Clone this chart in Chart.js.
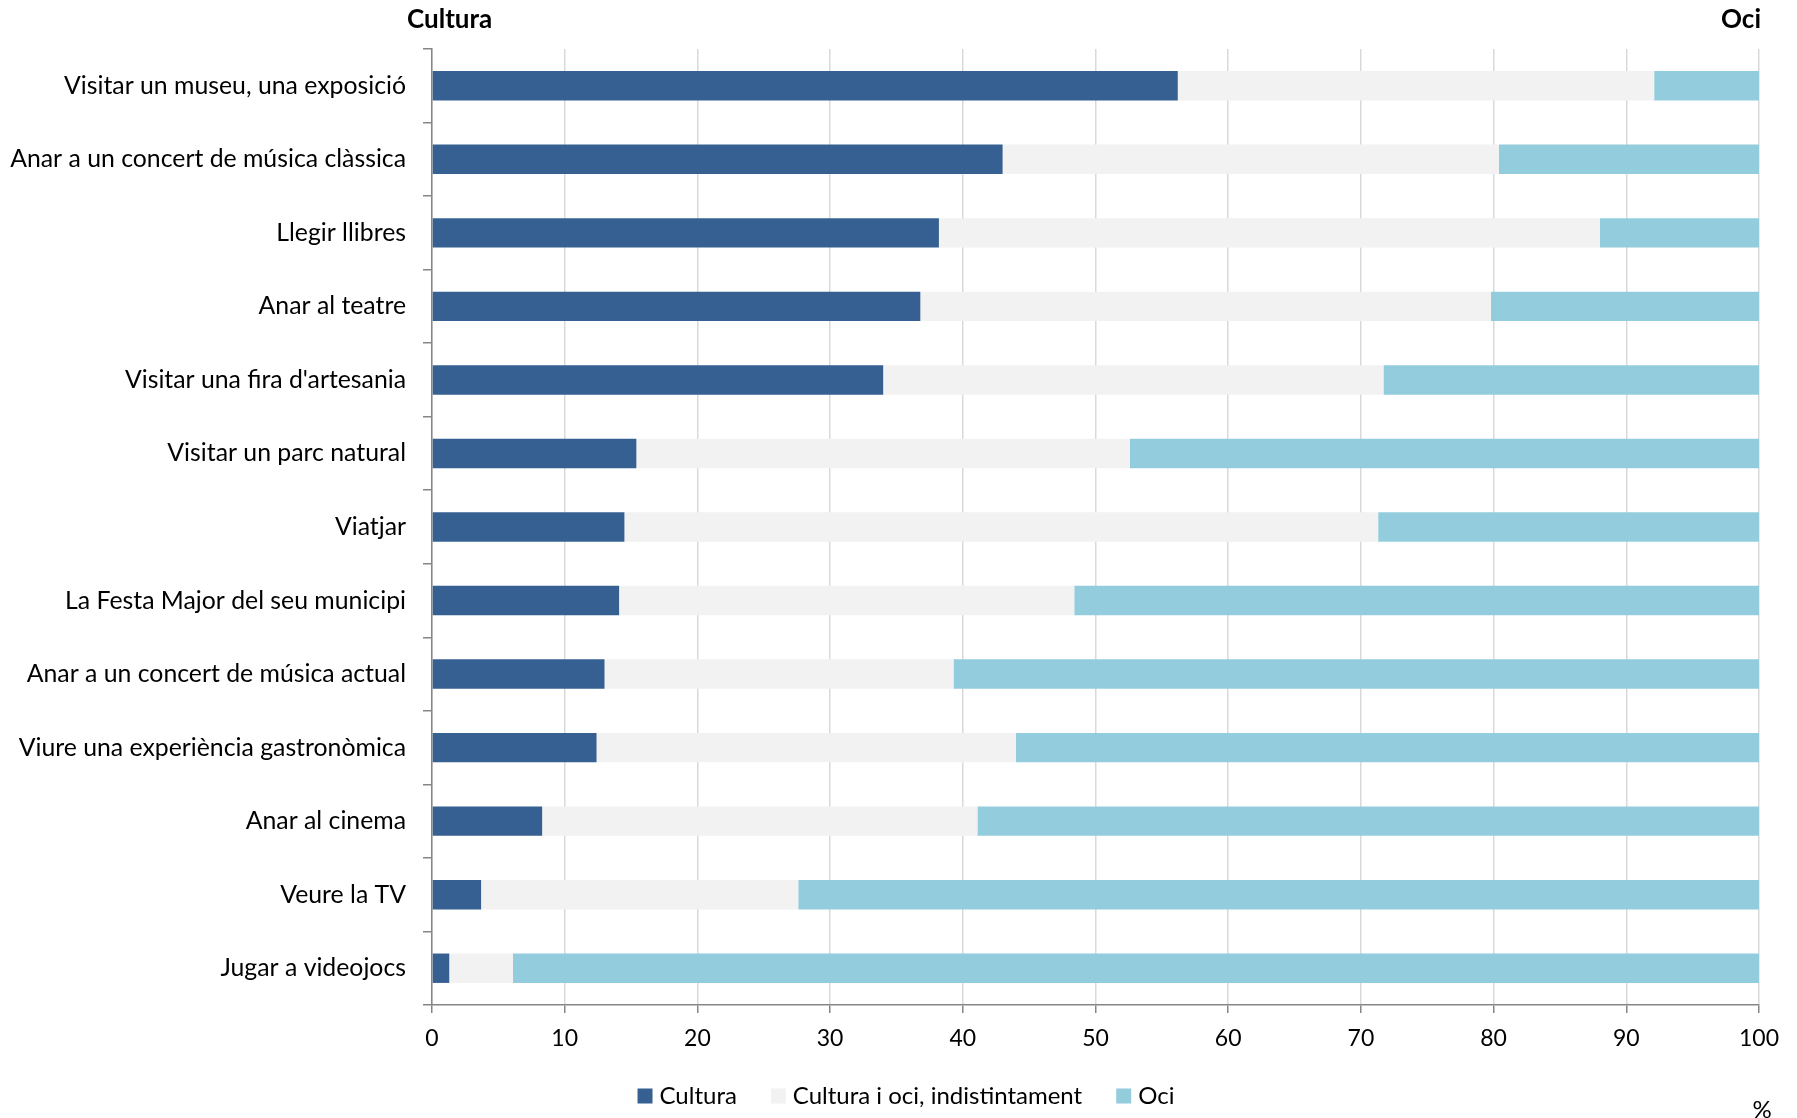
<!DOCTYPE html>
<html lang="ca">
<head>
<meta charset="utf-8">
<title>Cultura i oci</title>
<script src="https://cdn.jsdelivr.net/npm/chart.js@4.4.1/dist/chart.umd.min.js"></script>
<style>
    html, body { margin: 0; padding: 0; background: #fff; }
    #wrap { width: 1797px; height: 1118px; }
</style>
</head>
<body>
<div id="wrap"><canvas id="chart" width="1797" height="1118"></canvas></div>
<script>
// activitats, de dalt a baix
const activitats = [
    'Visitar un museu, una exposició',
    'Anar a un concert de música clàssica',
    'Llegir llibres',
    'Anar al teatre',
    "Visitar una fira d'artesania",
    'Visitar un parc natural',
    'Viatjar',
    'La Festa Major del seu municipi',
    'Anar a un concert de música actual',
    'Viure una experiència gastronòmica',
    'Anar al cinema',
    'Veure la TV',
    'Jugar a videojocs'
];

// percentatges (%)
const cultura      = [56.2, 43.0, 38.2, 36.8, 34.0, 15.4, 14.5, 14.1, 13.0, 12.4, 8.3, 3.7, 1.3];
const indistint    = [35.9, 37.4, 49.8, 43.0, 37.7, 37.2, 56.8, 34.3, 26.3, 31.6, 32.8, 23.9, 4.8];
const oci          = [7.9, 19.6, 12.0, 20.2, 28.3, 47.4, 28.7, 51.6, 60.7, 56.0, 58.9, 72.4, 93.9];

const ticksX = [0, 10, 20, 30, 40, 50, 60, 70, 80, 90, 100];

const FONT = 'Lato, "Liberation Sans", sans-serif';
const AXIS_GREY = '#868686';

// rètols "Cultura" / "Oci" a dalt, "%" a baix i llegenda pròpia
const extraText = {
    id: 'extraText',
    afterDraw(chart) {
        const ctx = chart.ctx;
        ctx.save();
        ctx.fillStyle = '#000';
        ctx.textBaseline = 'middle';
        ctx.font = 'bold 26px ' + FONT;
        ctx.textAlign = 'left';
        ctx.fillText('Cultura', 407, 20);
        ctx.textAlign = 'right';
        ctx.fillText('Oci', 1761, 20);

        ctx.font = '24px ' + FONT;
        ctx.textAlign = 'center';
        ctx.fillText('%', 1762, 1110);

        // llegenda
        const box = 15, gapText = 7, gapItem = 34;
        const items = chart.data.datasets.map(ds => ({
            text: ds.label,
            color: ds.backgroundColor,
            w: box + gapText + ctx.measureText(ds.label).width
        }));
        const total = items.reduce((s, it) => s + it.w, 0) + gapItem * (items.length - 1);
        let x = 906 - total / 2;
        const y = 1096;
        ctx.textAlign = 'left';
        items.forEach(it => {
            ctx.fillStyle = it.color;
            ctx.fillRect(x, y - box / 2, box, box);
            ctx.fillStyle = '#000';
            ctx.fillText(it.text, x + box + gapText, y);
            x += it.w + gapItem;
        });
        ctx.restore();
    }
};

new Chart(document.getElementById('chart'), {
    type: 'bar',
    data: {
        labels: activitats,
        datasets: [
            { label: 'Cultura', data: cultura, backgroundColor: '#376092' },
            { label: 'Cultura i oci, indistintament', data: indistint, backgroundColor: '#f2f2f2' },
            { label: 'Oci', data: oci, backgroundColor: '#93cddd' }
        ]
    },
    options: {
        indexAxis: 'y',
        responsive: false,
        animation: false,
        layout: { padding: { top: 49, right: 38, bottom: 0, left: 0 } },
        datasets: {
            bar: { barPercentage: 0.4, categoryPercentage: 1.0, borderWidth: 0 }
        },
        plugins: {
            legend: { display: false },
            tooltip: { enabled: false }
        },
        scales: {
            x: {
                stacked: true,
                min: 0,
                max: 100,
                afterBuildTicks: (scale) => { scale.ticks = ticksX.map(v => ({ value: v })); },
                afterFit: (scale) => { scale.height = 113; },
                ticks: {
                    color: '#000',
                    font: { family: FONT, size: 23 },
                    padding: 12,
                    maxRotation: 0
                },
                grid: {
                    color: '#d9d9d9',
                    lineWidth: 1.5,
                    tickColor: AXIS_GREY,
                    tickLength: 8
                },
                border: { color: AXIS_GREY, width: 1.5 }
            },
            y: {
                stacked: true,
                afterFit: (scale) => { scale.width = 432; },
                ticks: {
                    color: '#000',
                    font: { family: FONT, size: 24.8 },
                    padding: 17,
                    crossAlign: 'near'
                },
                grid: {
                    offset: true,
                    drawOnChartArea: false,
                    tickColor: AXIS_GREY,
                    tickLength: 9,
                    lineWidth: 1.5
                },
                border: { color: AXIS_GREY, width: 1.5 }
            }
        }
    },
    plugins: [extraText]
});
</script>
</body>
</html>
